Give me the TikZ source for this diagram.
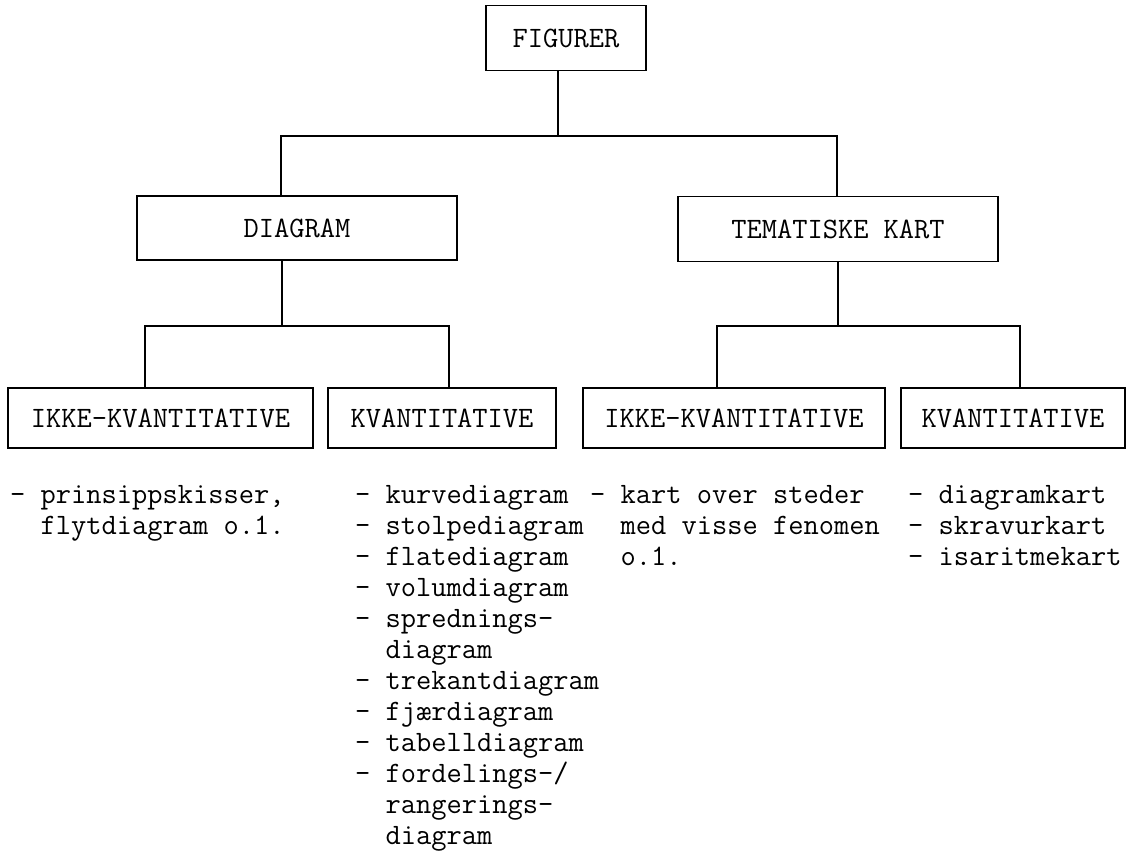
\documentclass[tikz,border=0pt]{standalone}
\usepackage{fontspec}
\begin{document}
\begin{tikzpicture}[x=1pt,y=-1pt,
  box/.style={draw,line width=1.1pt,inner sep=0pt,font=\ttfamily\fontsize{29.6}{30}\selectfont},
  conn/.style={line width=1.1pt},
  lst/.style={anchor=north west,inner sep=0pt,align=left,font=\ttfamily\fontsize{29.6}{31}\selectfont}]
\useasboundingbox (0,0) rectangle (1144,864);
% boxes
\node[box,minimum width=160pt,minimum height=65pt] (fig) at (566,38) {FIGURER};
\node[box,minimum width=320pt,minimum height=64pt] (diag) at (297,228) {DIAGRAM};
\node[box,minimum width=320pt,minimum height=65pt] (tema) at (838,229) {TEMATISKE KART};
\node[box,minimum width=305pt,minimum height=60pt] (ik1) at (160.5,418) {IKKE-KVANTITATIVE};
\node[box,minimum width=228pt,minimum height=60pt] (kv1) at (442,418) {KVANTITATIVE};
\node[box,minimum width=302pt,minimum height=60pt] (ik2) at (734,418) {IKKE-KVANTITATIVE};
\node[box,minimum width=224pt,minimum height=60pt] (kv2) at (1013,418) {KVANTITATIVE};
% junctions
\coordinate (j1) at (558,136);
\coordinate (jL) at (281,136);
\coordinate (jR) at (837,136);
\coordinate (j2) at (282,326);
\coordinate (k1L) at (145,326);
\coordinate (k1R) at (449,326);
\coordinate (j3) at (838,326);
\coordinate (k2L) at (717,326);
\coordinate (k2R) at (1020,326);
% connectors
\draw[conn] (fig.south -| j1) -- (j1);
\draw[conn] (diag.north -| jL) -- (jL) -- (jR) -- (tema.north -| jR);
\draw[conn] (diag.south -| j2) -- (j2);
\draw[conn] (ik1.north -| k1L) -- (k1L) -- (k1R) -- (kv1.north -| k1R);
\draw[conn] (tema.south -| j3) -- (j3);
\draw[conn] (ik2.north -| k2L) -- (k2L) -- (k2R) -- (kv2.north -| k2R);
% lists
\node[lst] (l1) at (10,485) {- prinsippskisser,\\\phantom{- }flytdiagram o.1.};
\node[lst] (l2) at (355,485) {- kurvediagram\\- stolpediagram\\- flatediagram\\- volumdiagram\\- sprednings-\\\phantom{- }diagram\\- trekantdiagram\\- fjærdiagram\\- tabelldiagram\\- fordelings-/\\\phantom{- }rangerings-\\\phantom{- }diagram};
\node[lst] (l3) at (590,485) {- kart over steder\\\phantom{- }med visse fenomen\\\phantom{- }o.1.};
\node[lst] (l4) at (908,485) {- diagramkart\\- skravurkart\\- isaritmekart};
\end{tikzpicture}
\end{document}
